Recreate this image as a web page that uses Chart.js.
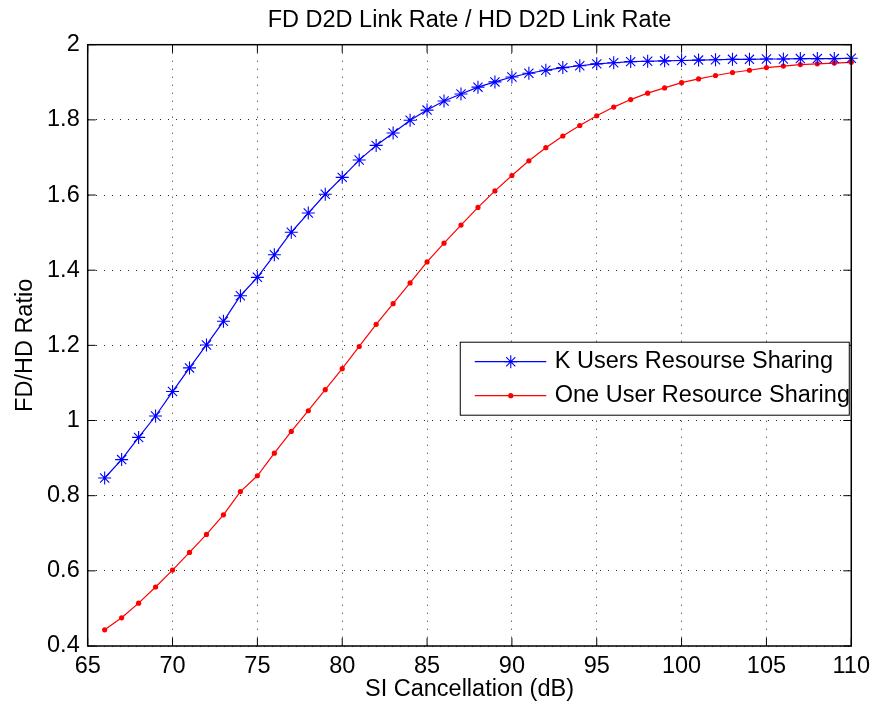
<!DOCTYPE html>
<html>
<head>
<meta charset="utf-8">
<title>FD D2D Link Rate / HD D2D Link Rate</title>
<script src="https://cdn.jsdelivr.net/npm/chart.js@4.4.1/dist/chart.umd.min.js"></script>
<style>
    html, body { margin: 0; padding: 0; background: #fff; }
    #wrap { width: 876px; height: 711px; }
</style>
</head>
<body>
<div id="wrap"><canvas id="ratioChart"></canvas></div>
<script>
// SI cancellation (dB) for every sample
const siCancellation = [66, 67, 68, 69, 70, 71, 72, 73, 74, 75, 76, 77, 78, 79, 80,
    81, 82, 83, 84, 85, 86, 87, 88, 89, 90, 91, 92, 93, 94, 95,
    96, 97, 98, 99, 100, 101, 102, 103, 104, 105, 106, 107, 108, 109, 110];

// FD/HD ratio, K users resource sharing
const kUsersRatio = [0.847, 0.896, 0.955, 1.012, 1.077, 1.140, 1.201, 1.264, 1.332, 1.381, 1.441, 1.501, 1.552, 1.602, 1.647,
    1.693, 1.732, 1.765, 1.799, 1.826, 1.850, 1.869, 1.887, 1.901, 1.914, 1.924, 1.932, 1.939, 1.944, 1.949,
    1.952, 1.955, 1.956, 1.957, 1.958, 1.959, 1.960, 1.961, 1.961, 1.962, 1.962, 1.963, 1.963, 1.963, 1.964];

// FD/HD ratio, one user resource sharing
const oneUserRatio = [0.443, 0.475, 0.514, 0.557, 0.602, 0.649, 0.697, 0.749, 0.811, 0.853, 0.913, 0.971, 1.026, 1.082, 1.138,
    1.197, 1.256, 1.311, 1.366, 1.422, 1.472, 1.520, 1.567, 1.611, 1.652, 1.691, 1.726, 1.757, 1.785, 1.811,
    1.834, 1.854, 1.871, 1.885, 1.899, 1.909, 1.918, 1.926, 1.932, 1.939, 1.943, 1.947, 1.949, 1.951, 1.953];

const xTickValues = [65, 70, 75, 80, 85, 90, 95, 100, 105, 110];
const yTickValues = [0.4, 0.6, 0.8, 1, 1.2, 1.4, 1.6, 1.8, 2];
const seriesLabels = ['K Users Resourse Sharing', 'One User Resource Sharing'];
const chartTitle = 'FD D2D Link Rate / HD D2D Link Rate';

const FONT = 'Arial, "Liberation Sans", Helvetica, sans-serif';
const TEXT_SIZE = 23.5;

function toPoints(values) {
    return siCancellation.map((x, i) => ({ x: x, y: values[i] }));
}

// Title centred over the plot area, not the whole canvas
const plotTitlePlugin = {
    id: 'plotTitle',
    afterDraw(chart) {
        const { ctx, chartArea: a } = chart;
        ctx.save();
        ctx.fillStyle = '#000';
        ctx.font = TEXT_SIZE + 'px ' + FONT;
        ctx.textAlign = 'center';
        ctx.textBaseline = 'alphabetic';
        ctx.fillText(chartTitle, (a.left + a.right) / 2, 27);
        ctx.restore();
    }
};

// Box around the plot with inward tick marks on all four sides
const axesBoxPlugin = {
    id: 'axesBox',
    afterDatasetsDraw(chart) {
        const { ctx, chartArea: a, scales: { x, y } } = chart;
        const len = 8;
        ctx.save();
        ctx.strokeStyle = '#000';
        ctx.lineWidth = 1;
        ctx.beginPath();
        xTickValues.forEach(v => {
            const px = x.getPixelForValue(v);
            ctx.moveTo(px, a.bottom); ctx.lineTo(px, a.bottom - len);
            ctx.moveTo(px, a.top); ctx.lineTo(px, a.top + len);
        });
        yTickValues.forEach(v => {
            const py = y.getPixelForValue(v);
            ctx.moveTo(a.left, py); ctx.lineTo(a.left + len, py);
            ctx.moveTo(a.right, py); ctx.lineTo(a.right - len, py);
        });
        ctx.stroke();
        ctx.lineWidth = 1.5;
        ctx.strokeRect(a.left, a.top, a.right - a.left, a.bottom - a.top);
        ctx.restore();
    }
};

// Legend drawn inside the plot, as a boxed key
const boxLegendPlugin = {
    id: 'boxLegend',
    afterDraw(chart) {
        const { ctx, chartArea: a } = chart;
        const w = 389, h = 73;
        const left = a.right - 2 - w;
        const top = a.top + 297.5;
        ctx.save();
        ctx.fillStyle = '#fff';
        ctx.fillRect(left, top, w, h);
        ctx.strokeStyle = '#000';
        ctx.lineWidth = 1;
        ctx.strokeRect(left, top, w, h);
        chart.data.datasets.forEach((ds, i) => {
            const rowY = top + 19.5 + i * 34;
            ctx.strokeStyle = ds.borderColor;
            ctx.lineWidth = ds.borderWidth;
            ctx.beginPath();
            ctx.moveTo(left + 14.5, rowY);
            ctx.lineTo(left + 86, rowY);
            ctx.stroke();
            ctx.fillStyle = ds.pointBackgroundColor;
            ctx.strokeStyle = ds.pointBorderColor;
            ctx.lineWidth = ds.pointBorderWidth;
            Chart.helpers.drawPoint(ctx, {
                pointStyle: ds.pointStyle,
                radius: ds.pointRadius,
                borderWidth: ds.pointBorderWidth,
                rotation: 0
            }, left + 50.5, rowY);
            ctx.fillStyle = '#000';
            ctx.font = TEXT_SIZE + 'px ' + FONT;
            ctx.textBaseline = 'middle';
            ctx.textAlign = 'left';
            ctx.fillText(ds.label, left + 94.5, rowY);
        });
        ctx.restore();
    }
};

function axisFont() {
    return { family: FONT, size: TEXT_SIZE, weight: 'normal' };
}

const gridOptions = {
    color: 'rgba(0, 0, 0, 0.85)',
    lineWidth: 1,
    drawTicks: false
};

new Chart(document.getElementById('ratioChart'), {
    type: 'line',
    data: {
        datasets: [{
            label: seriesLabels[0],
            data: toPoints(kUsersRatio),
            borderColor: '#0000ff',
            borderWidth: 1.2,
            pointStyle: 'star',
            pointRadius: 6.5,
            pointBorderColor: '#0000ff',
            pointBackgroundColor: '#0000ff',
            pointBorderWidth: 1.1,
            tension: 0,
            clip: false
        }, {
            label: seriesLabels[1],
            data: toPoints(oneUserRatio),
            borderColor: '#ff0000',
            borderWidth: 1.2,
            pointStyle: 'circle',
            pointRadius: 2.6,
            pointBorderColor: '#ff0000',
            pointBackgroundColor: '#ff0000',
            pointBorderWidth: 0,
            tension: 0,
            clip: false
        }]
    },
    options: {
        responsive: true,
        maintainAspectRatio: false,
        animation: false,
        layout: { padding: { left: 0, right: 22.7, top: 44.7, bottom: 0 } },
        plugins: {
            legend: { display: false },
            tooltip: { enabled: false },
            title: { display: false }
        },
        scales: {
            x: {
                type: 'linear',
                min: 65,
                max: 110,
                afterBuildTicks: s => { s.ticks = xTickValues.map(v => ({ value: v })); },
                afterFit: s => { s.height = 65; },
                grid: gridOptions,
                border: { display: false, dash: [1, 7] },
                ticks: {
                    padding: 6,
                    color: '#000',
                    font: axisFont(),
                    maxRotation: 0,
                    autoSkip: false,
                    callback: v => String(v)
                },
                title: {
                    display: true,
                    text: 'SI Cancellation (dB)',
                    color: '#000',
                    font: axisFont(),
                    padding: { top: 0, bottom: 7 }
                }
            },
            y: {
                type: 'linear',
                min: 0.4,
                max: 2,
                afterBuildTicks: s => { s.ticks = yTickValues.map(v => ({ value: v })); },
                afterFit: s => { s.width = 87.7; },
                grid: gridOptions,
                border: { display: false, dash: [1, 7] },
                ticks: {
                    padding: 8,
                    color: '#000',
                    font: axisFont(),
                    autoSkip: false,
                    callback: v => String(v)
                },
                title: {
                    display: true,
                    text: 'FD/HD Ratio',
                    color: '#000',
                    font: axisFont(),
                    padding: { top: 11, bottom: 0 }
                }
            }
        }
    },
    plugins: [axesBoxPlugin, boxLegendPlugin, plotTitlePlugin]
});
</script>
</body>
</html>
